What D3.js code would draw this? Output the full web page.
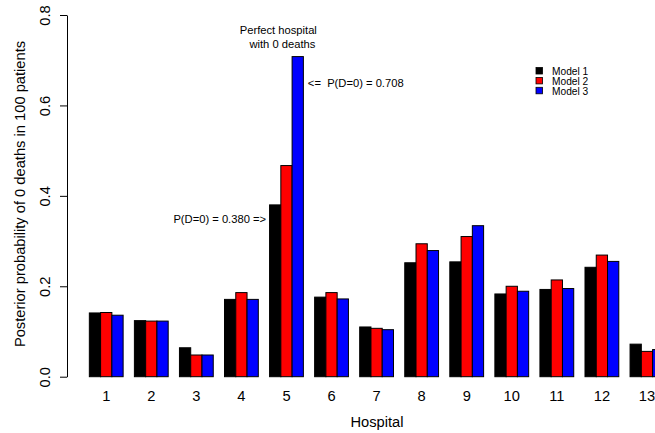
<!DOCTYPE html>
<html>
<head>
<meta charset="utf-8">
<script src="https://cdn.jsdelivr.net/npm/d3@7"></script>
<style>
  body { margin: 0; background: #fff; }
  svg { font-family: "Liberation Sans", Arial, Helvetica, sans-serif; display: block; }
  .axis text { font-size: 14.7px; fill: #000; }
  .axis line, .axis path { stroke: #000; }
</style>
</head>
<body>
<svg id="bar-chart" width="655" height="433"></svg>
<script>
let width = 655;
let height = 433;

let hospitals = ["1", "2", "3", "4", "5", "6", "7", "8", "9", "10", "11", "12", "13"];
let models = ["Model 1", "Model 2", "Model 3"];
let model1 = [0.141, 0.124, 0.064, 0.171, 0.380, 0.176, 0.110, 0.252, 0.254, 0.183, 0.193, 0.242, 0.072];
let model2 = [0.142, 0.123, 0.048, 0.186, 0.467, 0.186, 0.107, 0.294, 0.310, 0.200, 0.214, 0.269, 0.056];
let model3 = [0.136, 0.123, 0.048, 0.171, 0.708, 0.172, 0.104, 0.279, 0.334, 0.189, 0.195, 0.255, 0.060];
let yTicks = [0.0, 0.2, 0.4, 0.6, 0.8];

let colors = d3.scaleOrdinal()
    .domain(models)
    .range(["#000000", "#ff0000", "#0000ff"])

let data = hospitals.map((h, i) => ({
    hospital: h,
    values: [model1[i], model2[i], model3[i]]
}))

let svg = d3.select("#bar-chart")
let margin = { top: 15, left: 67, bottom: 57 };

let x = d3.scaleBand()
    .domain(hospitals)
    .range([83.7, 83.7 + 13 * 45.06])
    .paddingInner(0.25)
    .paddingOuter(0.125)

let xModel = d3.scaleBand()
    .domain(models)
    .range([0, x.bandwidth()])

let y = d3.scaleLinear()
    .domain([0, 0.8])
    .range([height - margin.bottom + 0.7, margin.top])

// bars
let groups = svg.append("g")
    .selectAll("g")
    .data(data)
    .join("g")
    .attr("transform", d => `translate(${x(d.hospital)},0)`)

groups.selectAll("rect")
    .data(d => d.values.map((v, j) => ({ model: models[j], value: v })))
    .join("rect")
    .attr("x", d => xModel(d.model))
    .attr("width", xModel.bandwidth())
    .attr("y", d => y(d.value))
    .attr("height", d => y(0) - y(d.value))
    .attr("fill", d => colors(d.model))
    .attr("stroke", "#000")
    .attr("stroke-width", 1)

// x axis (labels only)
svg.append("g")
    .attr("class", "x axis")
    .attr("transform", `translate(0,${y(0)})`)
    .call(d3.axisBottom(x).tickSize(0).tickPadding(13.6))
    .call(g => g.select(".domain").remove())

// y axis
svg.append("g")
    .attr("class", "y axis")
    .attr("transform", `translate(${margin.left},0)`)
    .call(d3.axisLeft(y).tickValues(yTicks).tickFormat(d3.format(".1f")).tickSize(7).tickSizeOuter(0))
    .call(g => g.selectAll(".tick text")
        .attr("transform", "rotate(-90)")
        .attr("text-anchor", "middle")
        .attr("x", 0)
        .attr("y", -17)
        .attr("dy", 0))

// axis titles
svg.append("text")
    .attr("x", 377)
    .attr("y", 427)
    .attr("text-anchor", "middle")
    .style("font-size", "14.7px")
    .text("Hospital")

svg.append("text")
    .attr("transform", "translate(25,194) rotate(-90)")
    .attr("text-anchor", "middle")
    .style("font-size", "14.7px")
    .text("Posterior probability of 0 deaths in 100 patients")

// annotations
let h5 = x("5")
annotate("Perfect hospital", h5 + x.bandwidth() + 13.5, y(0.757), "end")
annotate("with 0 deaths", h5 + x.bandwidth() + 12, y(0.727), "end")
annotate("<=  P(D=0) = " + d3.format(".3f")(model3[4]), h5 + x.bandwidth() + 4.5, y(0.641), "start")
annotate("P(D=0) = " + d3.format(".3f")(model1[4]) + " =>", h5 - 3.5, y(0.341), "end")

function annotate(text, px, py, anchor) {
  svg.append("text")
    .attr("x", px)
    .attr("y", py)
    .attr("text-anchor", anchor)
    .style("font-size", "11.2px")
    .style("white-space", "pre")
    .text(text)
}

// legend
let legend = svg.append("g")
    .attr("transform", "translate(536,67.5)")
    .selectAll("g")
    .data(models)
    .join("g")
    .attr("transform", (d, i) => `translate(0,${i * 9.9})`)

legend.append("rect")
    .attr("width", 6.5)
    .attr("height", 6.5)
    .attr("fill", d => colors(d))
    .attr("stroke", "#000")
    .attr("stroke-width", 0.8)

legend.append("text")
    .attr("x", 16)
    .attr("y", 7.3)
    .style("font-size", "10.2px")
    .text(d => d)
</script>
</body>
</html>
